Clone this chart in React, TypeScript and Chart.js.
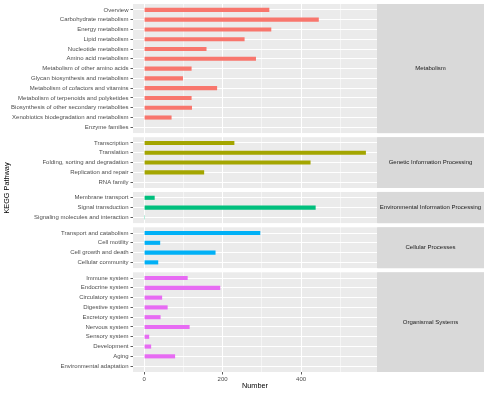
import { useEffect, useRef } from 'react';
import { Chart, registerables } from 'chart.js';

Chart.register(...registerables);

// ---------- data ----------
const panelNames = [
  'Metabolism',
  'Genetic Information Processing',
  'Environmental Information Processing',
  'Cellular Processes',
  'Organismal Systems',
];

const metabolismLabels = [
  'Overview',
  'Carbohydrate metabolism',
  'Energy metabolism',
  'Lipid metabolism',
  'Nucleotide metabolism',
  'Amino acid metabolism',
  'Metabolism of other amino acids',
  'Glycan biosynthesis and metabolism',
  'Metabolism of cofactors and vitamins',
  'Metabolism of terpenoids and polyketides',
  'Biosynthesis of other secondary metabolites',
  'Xenobiotics biodegradation and metabolism',
  'Enzyme families',
];
const metabolismValues = [319, 445, 324, 256, 159, 285, 121, 99, 186, 121, 122, 70, 0];

const geneticLabels = [
  'Transcription',
  'Translation',
  'Folding, sorting and degradation',
  'Replication and repair',
  'RNA family',
];
const geneticValues = [230, 565, 424, 153, 0];

const environmentalLabels = [
  'Membrane transport',
  'Signal transduction',
  'Signaling molecules and interaction',
];
const environmentalValues = [27, 437, 2];

const cellularLabels = [
  'Transport and catabolism',
  'Cell motility',
  'Cell growth and death',
  'Cellular community',
];
const cellularValues = [296, 41, 182, 36];

const organismalLabels = [
  'Immune system',
  'Endocrine system',
  'Circulatory system',
  'Digestive system',
  'Excretory system',
  'Nervous system',
  'Sensory system',
  'Development',
  'Aging',
  'Environmental adaptation',
];
const organismalValues = [111, 194, 46, 60, 42, 116, 13, 18, 79, 0];

const majorTicks = [0, 200, 400];
const minorTicks = [100, 300, 500];

const xTitle = 'Number';
const yTitle = 'KEGG Pathway';

// ---------- style ----------
const FONT = "'Liberation Sans', Arial, Helvetica, sans-serif";
const COLORS = ['#F8766D', '#A3A500', '#00BF7D', '#00B0F6', '#E76BF3'];
const GAP = 0.4; // white gap between facet panels, in row units
const EXPAND = 0.6; // discrete-axis expansion (ggplot style)
const STRIP_W = 107;

export default function App() {
  const ref = useRef<HTMLCanvasElement>(null);

  useEffect(() => {
    const canvas = ref.current;
    if (!canvas) return;
    Chart.defaults.font.family = FONT;

    const raw = [
      { name: panelNames[0], labels: metabolismLabels, values: metabolismValues },
      { name: panelNames[1], labels: geneticLabels, values: geneticValues },
      { name: panelNames[2], labels: environmentalLabels, values: environmentalValues },
      { name: panelNames[3], labels: cellularLabels, values: cellularValues },
      { name: panelNames[4], labels: organismalLabels, values: organismalValues },
    ];

    // facet layout along the (continuous) row axis
    let nextStart = 0;
    const panels = raw.map((p) => {
      const start = nextStart;
      const lo = start - EXPAND;
      const hi = start + p.labels.length - 1 + EXPAND;
      nextStart = hi + GAP + EXPAND;
      return { ...p, start, lo, hi };
    });
    const yMin = panels[0].lo;
    const yMax = panels[panels.length - 1].hi;

    const rowTicks: { value: number; label: string }[] = [];
    panels.forEach((p) => p.labels.forEach((l, k) => rowTicks.push({ value: p.start + k, label: l })));
    const labelAt = (v: number) => {
      const t = rowTicks.find((r) => Math.abs(r.value - v) < 1e-6);
      return t ? t.label : '';
    };

    const maxVal = Math.max(...raw.flatMap((p) => p.values));
    const allX = [...majorTicks, ...minorTicks].sort((a, b) => a - b);

    const facetPlugin = {
      id: 'facets',
      beforeDraw(chart: any) {
        const { ctx, chartArea } = chart;
        const s = chart.scales.y;
        ctx.save();
        panels.forEach((p) => {
          const a = s.getPixelForValue(p.lo);
          const b = s.getPixelForValue(p.hi);
          const top = Math.min(a, b);
          const h = Math.abs(b - a);
          ctx.fillStyle = '#EBEBEB';
          ctx.fillRect(chartArea.left, top, chartArea.right - chartArea.left, h);
          ctx.fillStyle = '#D9D9D9';
          ctx.fillRect(chartArea.right, top, STRIP_W, h);
          ctx.fillStyle = '#1A1A1A';
          ctx.font = `6px ${FONT}`;
          ctx.textAlign = 'center';
          ctx.textBaseline = 'middle';
          ctx.fillText(p.name, chartArea.right + STRIP_W / 2, top + h / 2);
        });
        ctx.restore();
      },
      beforeDatasetsDraw(chart: any) {
        // white out the x grid lines that cross the gaps between panels
        const { ctx, chartArea } = chart;
        const s = chart.scales.y;
        ctx.save();
        ctx.fillStyle = '#FFFFFF';
        for (let i = 0; i < panels.length - 1; i++) {
          const a = s.getPixelForValue(panels[i].hi);
          const b = s.getPixelForValue(panels[i + 1].lo);
          ctx.fillRect(chartArea.left - 0.5, Math.min(a, b), chartArea.right - chartArea.left + 1, Math.abs(b - a));
        }
        ctx.restore();
      },
      afterDraw(chart: any) {
        const { ctx, chartArea } = chart;
        ctx.save();
        ctx.translate(7, (chartArea.top + chartArea.bottom) / 2);
        ctx.rotate(-Math.PI / 2);
        ctx.fillStyle = '#000000';
        ctx.font = `7.3px ${FONT}`;
        ctx.textAlign = 'center';
        ctx.textBaseline = 'middle';
        ctx.fillText(yTitle, 0, 0);
        ctx.restore();
      },
    };

    const chart = new Chart(canvas, {
      type: 'bar',
      data: {
        datasets: panels.map((p, i) => ({
          label: p.name,
          data: p.values.map((v, k) => ({ x: v, y: p.start + k })),
          backgroundColor: COLORS[i],
          borderWidth: 0,
          grouped: false,
          categoryPercentage: 1,
          barPercentage: 0.42,
        })) as any,
      },
      options: {
        indexAxis: 'y',
        responsive: false,
        animation: false,
        devicePixelRatio: 1,
        layout: { padding: { left: 0, right: 120, top: 4, bottom: 0 } },
        plugins: {
          legend: { display: false },
          tooltip: { enabled: false },
        },
        scales: {
          x: {
            type: 'linear',
            position: 'bottom',
            offset: false,
            min: -maxVal * 0.05,
            max: maxVal * 1.05,
            afterBuildTicks: (s: any) => {
              s.ticks = allX.map((v) => ({ value: v }));
            },
            afterFit: (s: any) => {
              s.height = 22;
              s.paddingLeft = 0;
              s.paddingRight = 0;
            },
            ticks: {
              callback: (v: any) => (majorTicks.includes(v) ? String(v) : ''),
              color: '#4D4D4D',
              font: { size: 6 },
              padding: 1,
              maxRotation: 0,
              autoSkip: false,
            },
            grid: {
              offset: false,
              color: '#FFFFFF',
              lineWidth: (c: any) => (c.tick && majorTicks.includes(c.tick.value) ? 1 : 0.5),
              drawTicks: true,
              tickLength: 2.5,
              tickWidth: 0.8,
              tickColor: (c: any) =>
                c.tick && majorTicks.includes(c.tick.value) ? '#333333' : 'rgba(0,0,0,0)',
            },
            border: { display: false },
            title: {
              display: true,
              text: xTitle,
              color: '#000000',
              font: { size: 7.3 },
              padding: { top: 0, bottom: 4 },
            },
          },
          y: {
            type: 'linear',
            position: 'left',
            reverse: true,
            offset: false,
            min: yMin,
            max: yMax,
            afterBuildTicks: (s: any) => {
              s.ticks = rowTicks.map((r) => ({ value: r.value }));
            },
            afterFit: (s: any) => {
              s.width = 133;
              s.paddingTop = 0;
              s.paddingBottom = 0;
            },
            ticks: {
              callback: (v: any) => labelAt(v),
              color: '#4D4D4D',
              font: { size: 6 },
              padding: 2,
              autoSkip: false,
            },
            grid: {
              offset: false,
              color: '#FFFFFF',
              lineWidth: 1,
              drawTicks: true,
              tickLength: 2.5,
              tickWidth: 0.8,
              tickColor: '#333333',
            },
            border: { display: false },
          },
        },
      } as any,
      plugins: [facetPlugin],
    });

    return () => chart.destroy();
  }, []);

  return (
    <canvas
      ref={ref}
      width={497}
      height={394}
      style={{ position: 'fixed', left: 0, top: 0, width: 497, height: 394 }}
    />
  );
}
